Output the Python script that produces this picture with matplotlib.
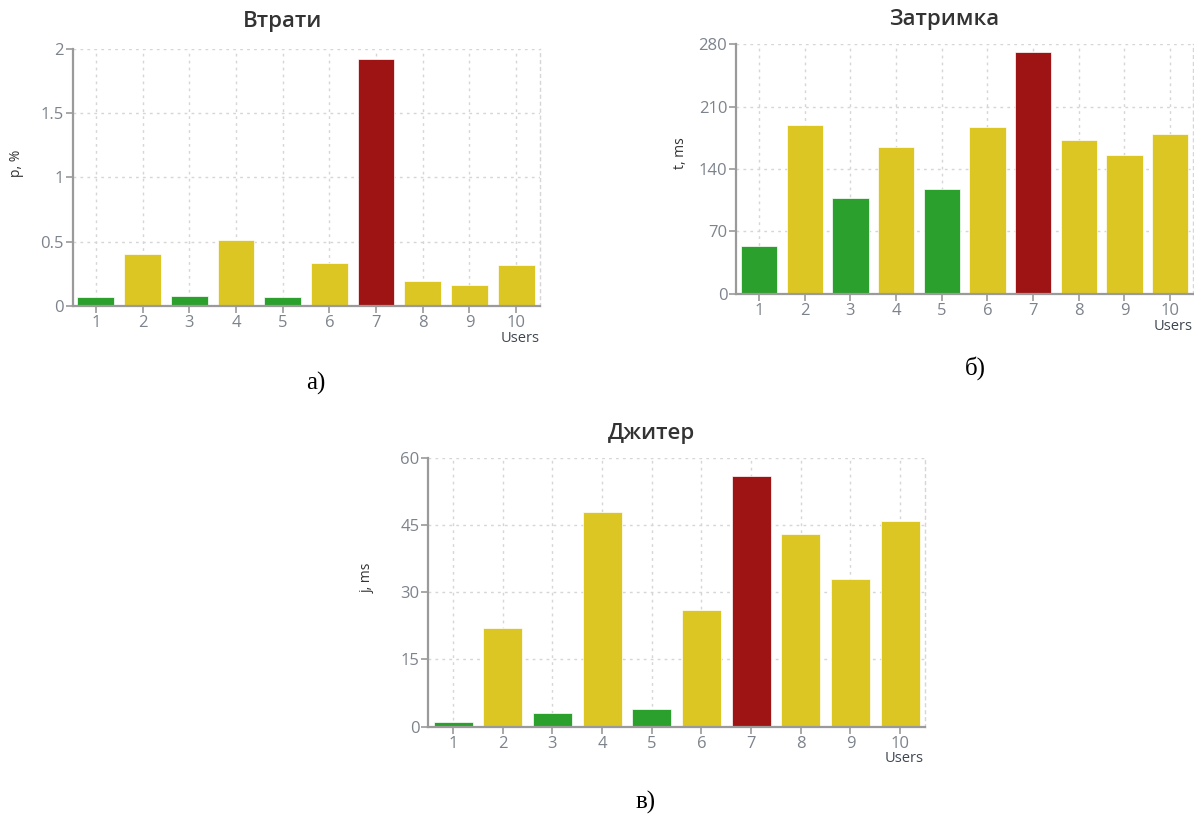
import matplotlib
matplotlib.use("Agg")
import matplotlib.pyplot as plt

W, H = 1194, 817

users = [1, 2, 3, 4, 5, 6, 7, 8, 9, 10]
# quality level of each user: g = good, y = acceptable, r = bad
status = ["g", "y", "g", "y", "g", "y", "r", "y", "y", "y"]

loss_pct = [0.065, 0.40, 0.08, 0.51, 0.07, 0.33, 1.92, 0.19, 0.16, 0.32]
delay_ms = [53, 189, 108, 165, 118, 187, 271, 172, 156, 179]
jitter_ms = [1, 22, 3, 48, 4, 26, 56, 43, 33, 46]

loss_ticks = [0, 0.5, 1, 1.5, 2]
loss_ticklabels = ["0", "0.5", "1", "1.5", "2"]
delay_ticks = [0, 70, 140, 210, 280]
jitter_ticks = [0, 15, 30, 45, 60]

STATUS_COLORS = {"g": "#2ca02c", "y": "#dbc623", "r": "#9e1414"}

plt.rcParams["font.family"] = ["Open Sans", "DejaVu Sans"]


def px_axes(fig, left, top, right, bottom):
    return fig.add_axes([left / W, 1 - bottom / H, (right - left) / W, (bottom - top) / H])


def ftext(fig, x, y, s, **kw):
    fig.text(x / W, 1 - y / H, s, **kw)


def draw_bars(ax, values, yticks, yticklabels=None):
    colors = [STATUS_COLORS[s] for s in status]
    ax.bar(users, values, width=0.79, color=colors, edgecolor="white", linewidth=0.5, zorder=3)
    ax.set_xlim(0.5, 10.5)
    ax.set_ylim(yticks[0], yticks[-1])
    ax.set_xticks(users)
    ax.set_yticks(yticks)
    if yticklabels is not None:
        ax.set_yticklabels(yticklabels)
    ax.grid(True, color="#d6d6d6", linestyle=(0, (2, 3)), linewidth=1.0, zorder=0)
    ax.spines["top"].set_visible(False)
    ax.spines["right"].set_color("#d6d6d6")
    ax.spines["right"].set_linestyle((0, (2, 3)))
    ax.spines["right"].set_linewidth(1.0)
    for side in ["left", "bottom"]:
        ax.spines[side].set_color("#9a9a9a")
        ax.spines[side].set_linewidth(1.6)
        ax.spines[side].set_zorder(4)
    ax.tick_params(axis="both", colors="#9a9a9a", labelcolor="#7d838c",
                   labelsize=12, length=5, width=1.2, pad=1.5)


fig = plt.figure(figsize=(W / 100, H / 100), dpi=100)
serif = ["Liberation Serif", "DejaVu Serif"]

# а) losses
ax = px_axes(fig, 72.5, 49, 539.5, 305.8)
draw_bars(ax, loss_pct, loss_ticks, loss_ticklabels)
ftext(fig, 283, 22, "Втрати", ha="center", va="center", fontsize=16,
      fontweight="semibold", color="#333333")
ftext(fig, 16, 163, "p, %", ha="center", va="center", rotation=90, fontsize=10, color="#333333")
ftext(fig, 540, 338, "Users", ha="right", va="center", fontsize=10.5, color="#3d4550")
ftext(fig, 316, 383, "а)", ha="center", va="center", fontsize=18, family=serif, color="black")

# б) delay
ax = px_axes(fig, 736.3, 44.3, 1193, 293.7)
draw_bars(ax, delay_ms, delay_ticks)
ftext(fig, 944, 19, "Затримка", ha="center", va="center", fontsize=16,
      fontweight="semibold", color="#333333")
ftext(fig, 681, 153, "t, ms", ha="center", va="center", rotation=90, fontsize=10, color="#333333")
ftext(fig, 1193, 326, "Users", ha="right", va="center", fontsize=10.5, color="#3d4550")
ftext(fig, 975, 368, "б)", ha="center", va="center", fontsize=18, family=serif, color="black")

# в) jitter
ax = px_axes(fig, 428.3, 458, 925, 726.6)
draw_bars(ax, jitter_ms, jitter_ticks)
ftext(fig, 651, 433, "Джитер", ha="center", va="center", fontsize=16,
      fontweight="semibold", color="#333333")
ftext(fig, 367, 578, "j, ms", ha="center", va="center", rotation=90, fontsize=10, color="#333333")
ftext(fig, 924, 759, "Users", ha="right", va="center", fontsize=10.5, color="#3d4550")
ftext(fig, 646, 802, "в)", ha="center", va="center", fontsize=18, family=serif, color="black")

fig.savefig("out.png", dpi=100)
